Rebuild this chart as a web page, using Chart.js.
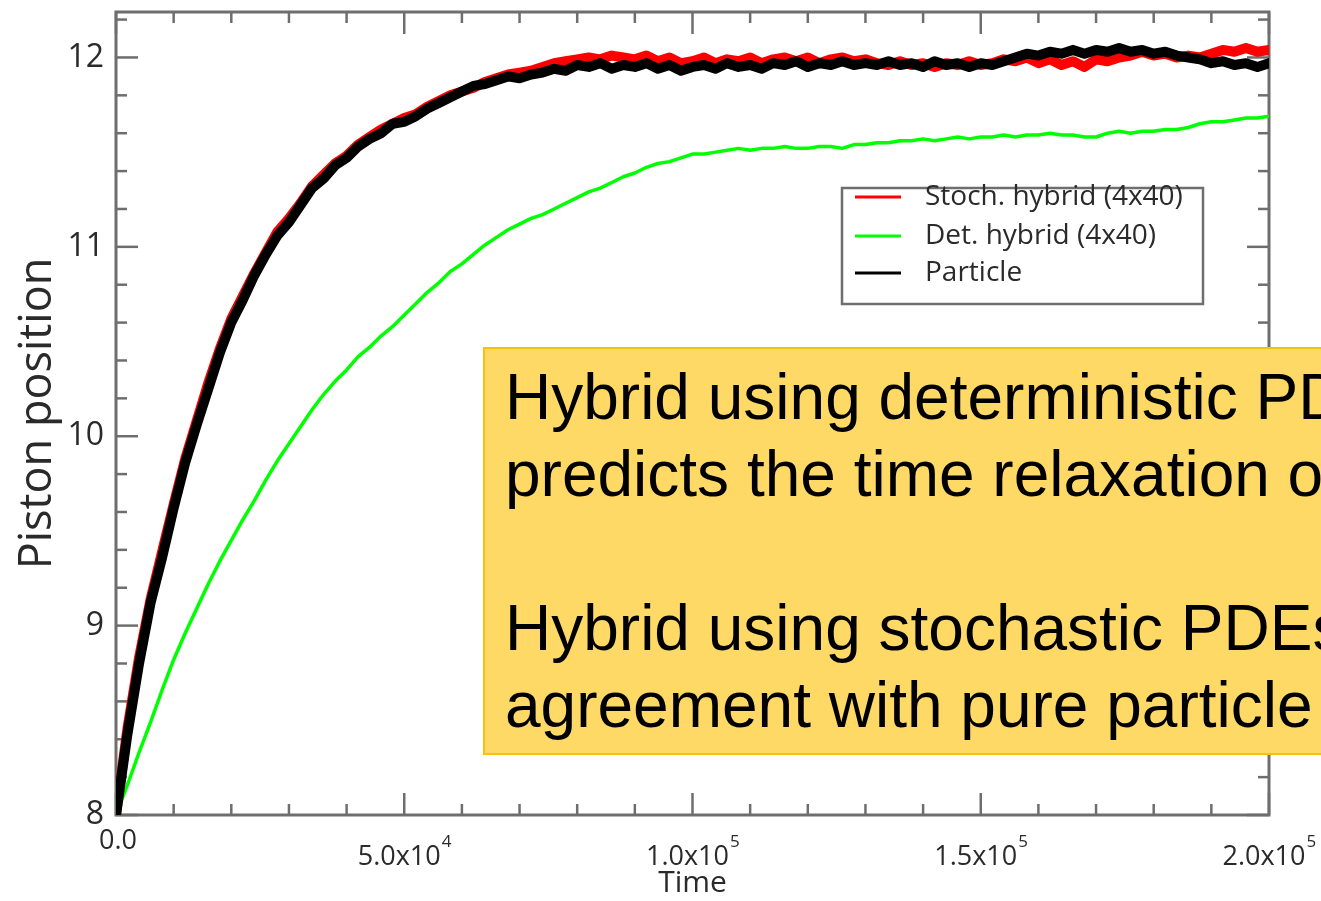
<!DOCTYPE html>
<html>
<head>
<meta charset="utf-8">
<script src="https://cdn.jsdelivr.net/npm/chart.js@4.4.0/dist/chart.umd.min.js"></script>
<style>
  html, body { margin: 0; padding: 0; background: #fff; overflow: hidden; }
  #wrap { position: relative; width: 1321px; height: 901px; overflow: hidden; }
  #note {
    position: absolute; left: 483px; top: 347px; width: 900px; height: 408px;
    box-sizing: border-box; background: #ffd966; border: 2px solid #f5c20f;
    padding: 10px 0 0 20px; font: 64px/77px "Liberation Sans", Arial, sans-serif;
    color: #000; white-space: nowrap;
  }
</style>
</head>
<body>
<div id="wrap">
  <canvas id="chart"></canvas>
  <div id="note">Hybrid using deterministic PDEs<br>predicts the time relaxation of<br>&nbsp;<br>Hybrid using stochastic PDEs<br>agreement with pure particle</div>
</div>
<script>
// time in units of 1000
const timeK = [0,2,4,6,8,10,12,14,16,18,20,22,24,26,28,30,32,34,36,38,40,42,44,46,48,50,
  52,54,56,58,60,62,64,66,68,70,72,74,76,78,80,82,84,86,88,90,92,94,96,98,100,
  102,104,106,108,110,112,114,116,118,120,122,124,126,128,130,132,134,136,138,140,
  142,144,146,148,150,152,154,156,158,160,162,164,166,168,170,172,174,176,178,180,
  182,184,186,188,190,192,194,196,198,200];

const particle = [8.00,8.43,8.80,9.12,9.36,9.62,9.86,10.06,10.25,10.44,10.60,10.72,10.85,10.96,11.06,11.13,
  11.22,11.31,11.36,11.43,11.47,11.53,11.57,11.60,11.65,11.66,11.69,11.73,11.76,11.79,11.82,11.85,11.86,
  11.88,11.90,11.89,11.91,11.92,11.94,11.93,11.96,11.95,11.97,11.94,11.96,11.95,11.97,11.94,11.96,11.93,
  11.95,11.96,11.94,11.97,11.95,11.96,11.94,11.97,11.96,11.98,11.95,11.97,11.96,11.98,11.96,11.97,11.96,
  11.98,11.96,11.97,11.95,11.98,11.96,11.97,11.95,11.97,11.96,11.98,12.00,12.02,12.01,12.03,12.02,12.04,
  12.02,12.04,12.03,12.05,12.03,12.04,12.02,12.03,12.01,12.00,11.99,11.97,11.98,11.96,11.97,11.95,11.97];

const stochHybrid = [8.00,8.46,8.83,9.14,9.39,9.64,9.88,10.08,10.28,10.46,10.62,10.74,10.86,10.97,11.08,11.15,
  11.23,11.32,11.38,11.44,11.48,11.54,11.58,11.62,11.65,11.68,11.70,11.74,11.77,11.80,11.82,11.84,11.87,
  11.89,11.91,11.92,11.93,11.95,11.97,11.98,11.99,12.00,11.99,12.01,12.00,11.99,12.01,11.98,12.00,11.97,
  11.98,12.00,11.97,11.99,11.98,12.00,11.97,11.99,12.00,11.98,12.00,11.97,11.99,12.00,11.98,11.99,11.97,
  11.96,11.98,11.96,11.97,11.95,11.97,11.96,11.98,11.96,11.97,11.99,11.98,12.00,11.97,11.99,11.96,11.98,
  11.95,11.99,11.98,12.00,12.01,12.03,12.01,12.02,12.00,12.01,12.00,12.02,12.04,12.03,12.05,12.03,12.04];

const detHybrid = [8.00,8.16,8.33,8.49,8.66,8.82,8.96,9.09,9.22,9.34,9.45,9.56,9.66,9.77,9.87,9.96,
  10.05,10.14,10.22,10.29,10.35,10.42,10.47,10.53,10.58,10.64,10.70,10.76,10.81,10.87,10.91,10.96,11.01,
  11.05,11.09,11.12,11.15,11.17,11.20,11.23,11.26,11.29,11.31,11.34,11.37,11.39,11.42,11.44,11.45,11.47,
  11.49,11.49,11.50,11.51,11.52,11.51,11.52,11.52,11.53,11.52,11.52,11.53,11.53,11.52,11.54,11.54,11.55,
  11.55,11.56,11.56,11.57,11.56,11.57,11.58,11.57,11.58,11.58,11.59,11.58,11.59,11.59,11.60,11.59,11.59,
  11.58,11.58,11.60,11.61,11.60,11.61,11.61,11.62,11.62,11.63,11.65,11.66,11.66,11.67,11.68,11.68,11.69];

const seriesNames = ["Stoch. hybrid (4x40)", "Det. hybrid (4x40)", "Particle"];
const yTicks = [8, 9, 10, 11, 12];
const xTicks = [0, 50000, 100000, 150000, 200000];
const xTickMain = ["0.0", "5.0x10", "1.0x10", "1.5x10", "2.0x10"];
const xTickExp = ["", "4", "5", "5", "5"];

const toPoints = (vals) => timeK.map((t, i) => ({ x: t * 1000, y: vals[i] }));

const axisColor = "#6e6e6e";
const textColor = "#2a2a2a";
const font = '"Open Sans", "DejaVu Sans", sans-serif';

// inward ticks on all four sides, plus the frame
const frameTicks = {
  id: "frameTicks",
  beforeDatasetsDraw(chart) {
    const { ctx, chartArea: a, scales: { x, y } } = chart;
    ctx.save();
    ctx.strokeStyle = axisColor;
    ctx.lineWidth = 2.5;
    const line = (x1, y1, x2, y2) => {
      ctx.beginPath(); ctx.moveTo(x1, y1); ctx.lineTo(x2, y2); ctx.stroke();
    };
    for (let i = 0; i <= 20; i++) {
      const px = x.getPixelForValue(i * 10000);
      const len = i % 5 === 0 ? 22 : 11;
      line(px, a.bottom, px, a.bottom - len);
      line(px, a.top, px, a.top + len);
    }
    for (let i = 0; i <= 21; i++) {
      const py = y.getPixelForValue(8 + i * 0.2);
      const len = i % 5 === 0 ? 22 : 11;
      line(a.left, py, a.left + len, py);
      line(a.right, py, a.right - len, py);
    }
    ctx.lineWidth = 3;
    ctx.strokeRect(a.left, a.top, a.right - a.left, a.bottom - a.top);
    ctx.restore();
  },
  afterDraw(chart) {
    const { ctx, chartArea: a, scales: { x } } = chart;
    ctx.save();
    ctx.fillStyle = textColor;
    ctx.textBaseline = "middle";
    xTicks.forEach((v, i) => {
      const px = x.getPixelForValue(v);
      ctx.font = "27px " + font;
      if (!xTickExp[i]) {
        ctx.textAlign = "center";
        ctx.fillText(xTickMain[i], px + 2, a.bottom + 26);
        return;
      }
      const w = ctx.measureText(xTickMain[i]).width;
      const left = px - 5 - w / 2;
      ctx.textAlign = "left";
      ctx.fillText(xTickMain[i], left, a.bottom + 42);
      ctx.font = "17px " + font;
      ctx.fillText(xTickExp[i], left + w + 1, a.bottom + 27);
    });

    // legend box
    ctx.fillStyle = "#fff";
    ctx.fillRect(842, 188, 361, 116);
    ctx.strokeStyle = axisColor;
    ctx.lineWidth = 2.5;
    ctx.strokeRect(842, 188, 361, 116);
    const rows = [197, 236, 273];
    chart.data.datasets.forEach((ds, i) => {
      ctx.strokeStyle = ds.borderColor;
      ctx.lineWidth = 3;
      ctx.beginPath(); ctx.moveTo(855, rows[i]); ctx.lineTo(901, rows[i]); ctx.stroke();
      ctx.fillStyle = textColor;
      ctx.font = "28px " + font;
      ctx.textAlign = "left";
      ctx.fillText(seriesNames[i], 925, rows[i]);
    });
    ctx.restore();
  }
};

new Chart(document.getElementById("chart"), {
  type: "line",
  data: {
    datasets: [
      { label: seriesNames[0], data: toPoints(stochHybrid), borderColor: "#ff0000", borderWidth: 10, order: 2 },
      { label: seriesNames[1], data: toPoints(detHybrid), borderColor: "#00ff00", borderWidth: 3.5, order: 1 },
      { label: seriesNames[2], data: toPoints(particle), borderColor: "#000000", borderWidth: 10, order: 0 }
    ]
  },
  options: {
    responsive: true,
    maintainAspectRatio: false,
    animation: false,
    events: [],
    layout: { padding: { left: 0, top: 12, right: 52, bottom: 0 } },
    elements: {
      point: { radius: 0 },
      line: { tension: 0, borderJoinStyle: "round", borderCapStyle: "round" }
    },
    plugins: { legend: { display: false }, tooltip: { enabled: false } },
    scales: {
      x: {
        type: "linear", min: 0, max: 200000,
        grid: { display: false, drawTicks: false },
        border: { display: false },
        ticks: { display: false },
        title: { display: true, text: "Time", color: textColor, font: { family: font, size: 30 }, padding: 0 },
        afterFit: (s) => { s.height = 86; s.paddingLeft = 0; s.paddingRight = 0; }
      },
      y: {
        type: "linear", min: 8, max: 12.24,
        grid: { display: false, drawTicks: false },
        border: { display: false },
        ticks: { color: textColor, font: { family: font, size: 32 }, padding: 12 },
        afterBuildTicks: (s) => { s.ticks = yTicks.map((v) => ({ value: v })); },
        title: { display: true, text: "Piston position", color: textColor, font: { family: font, size: 45 }, padding: { top: 11, bottom: 0 } },
        afterFit: (s) => { s.width = 116; s.paddingTop = 0; s.paddingBottom = 0; }
      }
    }
  },
  plugins: [frameTicks]
});
</script>
</body>
</html>
